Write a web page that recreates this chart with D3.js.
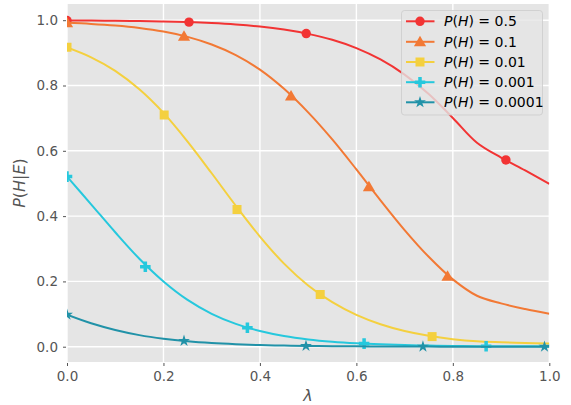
<!DOCTYPE html>
<html>
<head>
<meta charset="utf-8">
<script src="https://cdn.jsdelivr.net/npm/d3@7"></script>
<style>
  html, body { margin: 0; padding: 0; background: #ffffff; }
  svg { display: block; }
  text { font-family: "DejaVu Sans", sans-serif; }
</style>
</head>
<body>
<svg id="chart" width="571" height="405"></svg>
<script>
// ---- data ----
const lambdas = [0, 0.05, 0.1, 0.15, 0.2, 0.25, 0.3, 0.35, 0.4, 0.45, 0.5, 0.55, 0.6, 0.65, 0.7, 0.75, 0.8, 0.85, 0.9, 0.95, 1.0];
const post_05    = [0.9991, 0.9987, 0.9982, 0.9973, 0.9960, 0.9941, 0.9912, 0.9869, 0.9806, 0.9713, 0.9581, 0.9399, 0.9145, 0.8797, 0.8334, 0.7738, 0.7006, 0.6248, 0.5793, 0.5399, 0.4990];
const post_01    = [0.9918, 0.9885, 0.9836, 0.9762, 0.9652, 0.9490, 0.9257, 0.8931, 0.8485, 0.7897, 0.7176, 0.6348, 0.5431, 0.4484, 0.3573, 0.2754, 0.2063, 0.1561, 0.1327, 0.1154, 0.1010];
const post_001   = [0.9165, 0.8864, 0.8449, 0.7883, 0.7161, 0.6283, 0.5312, 0.4317, 0.3374, 0.2545, 0.1877, 0.1364, 0.0975, 0.0688, 0.0481, 0.0334, 0.0231, 0.0165, 0.0137, 0.0117, 0.0100];
const post_0001  = [0.5211, 0.4362, 0.3505, 0.2695, 0.2000, 0.1435, 0.1009, 0.0700, 0.0480, 0.0327, 0.0224, 0.0154, 0.0106, 0.0073, 0.0050, 0.0034, 0.0023, 0.0017, 0.0014, 0.0012, 0.0010];
const post_00001 = [0.0980, 0.0717, 0.0512, 0.0355, 0.0244, 0.0165, 0.0111, 0.0075, 0.0050, 0.0034, 0.0023, 0.0016, 0.0011, 0.0007, 0.0005, 0.0003, 0.0002, 0.0002, 0.0001, 0.0001, 0.0001];

// marker positions (lambda, value)
const mk_05_x    = [0, 0.253, 0.496, 0.910];
const mk_05_y    = [0.999, 0.994, 0.959, 0.572];
const mk_01_x    = [0, 0.2426, 0.4645, 0.626, 0.789];
const mk_01_y    = [0.992, 0.951, 0.768, 0.490, 0.216];
const mk_001_x   = [0, 0.2015, 0.3525, 0.525, 0.757];
const mk_001_y   = [0.917, 0.710, 0.420, 0.160, 0.031];
const mk_0001_x  = [0, 0.1624, 0.374, 0.616, 0.869];
const mk_0001_y  = [0.521, 0.245, 0.058, 0.0095, 0.0016];
const mk_00001_x = [0, 0.2426, 0.4955, 0.738, 0.990];
const mk_00001_y = [0.098, 0.0180, 0.0024, 0.0003, 0.0001];

const seriesNames = ["0.5", "0.1", "0.01", "0.001", "0.0001"];
const xTicks = [0, 0.2, 0.4, 0.6, 0.8, 1.0];
const yTicks = [0, 0.2, 0.4, 0.6, 0.8, 1.0];

// ---- styles ----
const colors = ["#F23434", "#F27935", "#F4D03F", "#26C8DD", "#2192A8"];
const symbols = [d3.symbolCircle, d3.symbolTriangle, d3.symbolSquare, d3.symbolCross, d3.symbolStar];
const symSizes = [70, 64, 81, 62, 44];

const series = [
  {vals: post_05,    mx: mk_05_x,    my: mk_05_y},
  {vals: post_01,    mx: mk_01_x,    my: mk_01_y},
  {vals: post_001,   mx: mk_001_x,   my: mk_001_y},
  {vals: post_0001,  mx: mk_0001_x,  my: mk_0001_y},
  {vals: post_00001, mx: mk_00001_x, my: mk_00001_y}
];

const L = 67, R = 549.3, T = 4, B = 362;
const x = d3.scaleLinear().domain([0, 1]).range([L, R]);
const y = d3.scaleLinear().domain([-0.0468, 1.0496]).range([B, T]);

const svg = d3.select("#chart");

// background
svg.append("rect").attr("x", L).attr("y", T).attr("width", R - L).attr("height", B - T).attr("fill", "#E5E5E5");

// grid
const grid = svg.append("g");
grid.selectAll("line.v").data(xTicks).join("line")
  .attr("x1", d => x(d)).attr("x2", d => x(d)).attr("y1", T).attr("y2", B)
  .attr("stroke", "#ffffff").attr("stroke-width", 1.4);
grid.selectAll("line.h").data(yTicks).join("line")
  .attr("y1", d => y(d)).attr("y2", d => y(d)).attr("x1", L).attr("x2", R)
  .attr("stroke", "#ffffff").attr("stroke-width", 1.4);

// axes
const fmt = d3.format(".1f");
const xAxis = d3.axisBottom(x).tickValues(xTicks).tickFormat(fmt).tickSize(4).tickPadding(5);
const yAxis = d3.axisLeft(y).tickValues(yTicks).tickFormat(fmt).tickSize(4).tickPadding(5);
const gx = svg.append("g").attr("transform", `translate(0,${B})`).call(xAxis);
const gy = svg.append("g").attr("transform", `translate(${L},0)`).call(yAxis);
[gx, gy].forEach(g => {
  g.select(".domain").remove();
  g.selectAll(".tick line").attr("stroke", "#555555").attr("stroke-width", 1);
  g.selectAll(".tick text").attr("fill", "#555555").style("font-size", "13.5px").style("font-family", "DejaVu Sans");
});
gx.selectAll(".tick line").attr("y1", 1);
gy.selectAll(".tick line").attr("x1", -1);

// clip
svg.append("defs").append("clipPath").attr("id", "plotclip")
  .append("rect").attr("x", L).attr("y", T).attr("width", R - L).attr("height", B - T);

const line = d3.line().x(d => x(d[0])).y(d => y(d[1])).curve(d3.curveCatmullRom.alpha(0.5));
const plot = svg.append("g").attr("clip-path", "url(#plotclip)");

series.forEach((s, i) => {
  const g = plot.append("g");
  const pts = lambdas.map((l, j) => [l, s.vals[j]]);
  g.append("path").datum(pts).attr("d", line)
    .attr("fill", "none").attr("stroke", colors[i]).attr("stroke-width", 2);
  const mpts = s.mx.map((l, j) => [l, s.my[j]]);
  g.selectAll("path.m").data(mpts).join("path")
    .attr("d", d3.symbol().type(symbols[i]).size(symSizes[i]))
    .attr("transform", d => `translate(${x(d[0])},${y(d[1]) + (i === 1 ? 1 : 0)})`)
    .attr("fill", colors[i]);
});

// axis labels
const ylab = svg.append("text")
  .attr("transform", "translate(25,183) rotate(-90)")
  .attr("text-anchor", "middle")
  .attr("fill", "#555555")
  .style("font-size", "16px");
ylab.append("tspan").attr("font-style", "italic").text("P");
ylab.append("tspan").text("(");
ylab.append("tspan").attr("font-style", "italic").text("H");
ylab.append("tspan").text("|");
ylab.append("tspan").attr("font-style", "italic").text("E");
ylab.append("tspan").text(")");

svg.append("text").attr("x", 308).attr("y", 401).attr("text-anchor", "middle")
  .attr("fill", "#555555").attr("font-style", "italic").style("font-size", "16px").text("λ");

// legend
const lg = svg.append("g");
lg.append("rect").attr("x", 401.5).attr("y", 10.5).attr("width", 141).attr("height", 104.5)
  .attr("rx", 3).attr("fill", "#E5E5E5").attr("fill-opacity", 0.8)
  .attr("stroke", "#cccccc").attr("stroke-opacity", 0.8).attr("stroke-width", 1);
const rowY = [21.3, 41.8, 62, 82.2, 102.3];
seriesNames.forEach((name, i) => {
  const cy = rowY[i];
  lg.append("line").attr("x1", 406).attr("x2", 434.5).attr("y1", cy).attr("y2", cy)
    .attr("stroke", colors[i]).attr("stroke-width", 2);
  lg.append("path").attr("d", d3.symbol().type(symbols[i]).size(symSizes[i]))
    .attr("transform", `translate(420,${cy + (i === 1 ? 1 : 0)})`).attr("fill", colors[i]);
  const t = lg.append("text").attr("x", 444).attr("y", cy + 5).attr("fill", "#000000").style("font-size", "14px");
  t.append("tspan").attr("font-style", "italic").text("P");
  t.append("tspan").text("(");
  t.append("tspan").attr("font-style", "italic").text("H");
  t.append("tspan").text(") = " + name);
});
</script>
</body>
</html>
